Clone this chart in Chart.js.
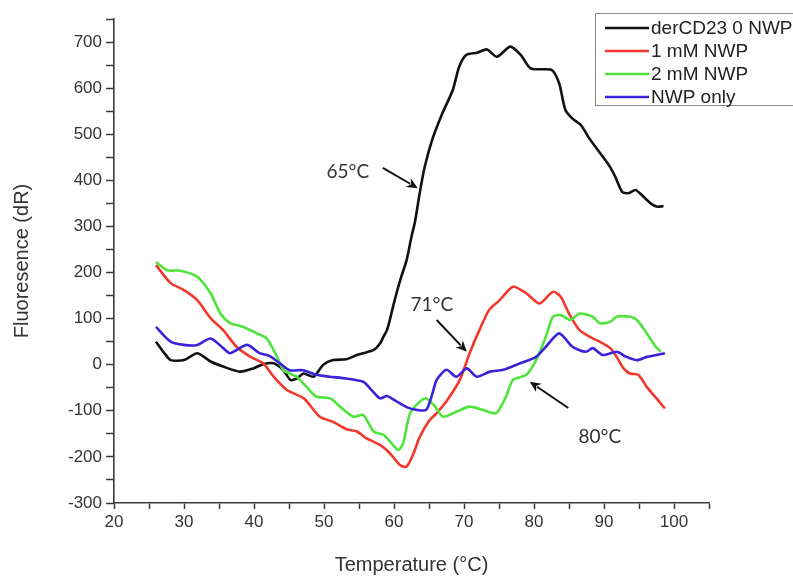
<!DOCTYPE html>
<html><head><meta charset="utf-8">
<script src="https://cdn.jsdelivr.net/npm/chart.js@4.4.1/dist/chart.umd.min.js"></script>
<style>html,body{margin:0;padding:0;background:#fff}#wrap{width:793px;height:577px}</style>
</head><body><div id="wrap"><canvas id="c" width="793" height="577"></canvas></div>
<script>
// ---- data ----
const seriesLabels = ['derCD23 0 NWP', '1 mM NWP', '2 mM NWP', 'NWP only'];

const blackTemp = [26.0,27.2,28.1,30.0,31.9,33.8,35.6,38.0,39.9,41.3,42.8,44.2,45.2,46.1,47.1,48.5,49.9,51.3,53.2,54.7,55.6,57.1,58.0,58.5,59.0,59.4,60.1,60.9,61.8,62.5,63.0,63.7,64.4,65.5,66.9,68.4,69.3,70.3,71.9,73.3,74.7,76.6,78.1,79.5,81.2,82.6,83.6,84.5,85.5,86.7,87.9,89.3,90.7,91.6,92.6,93.5,94.5,95.4,96.6,97.5,98.5];
const blackVal  = [50,25,10,10,25,7,-4,-15,-8,1,3,-12,-33,-30,-19,-26,0,10,12,21,25,32,46,61,75,97,140,184,227,278,310,375,430,490,545,596,646,672,677,684,668,690,672,643,641,639,610,552,534,520,491,462,433,408,375,372,379,368,351,343,344];

const redTemp = [26.0,28.1,30.0,31.9,33.8,35.6,37.5,39.5,41.3,42.8,44.7,47.1,49.4,51.3,53.2,54.7,56.1,58.0,59.4,60.9,61.8,62.8,63.7,65.1,66.1,67.6,69.4,70.8,72.2,73.6,75.1,77.0,78.9,80.8,82.7,83.8,85.0,86.5,88.4,89.4,90.9,91.8,92.8,93.7,94.9,96.1,97.5,98.7];
const redVal  = [216,177,162,140,101,75,39,17,3,-26,-55,-73,-113,-124,-140,-145,-160,-174,-192,-218,-221,-192,-156,-120,-105,-77,-33,25,75,119,140,169,155,133,158,148,111,75,57,50,36,17,-8,-19,-22,-48,-73,-95];

const greenTemp = [26.0,27.6,29.5,31.9,33.8,35.2,36.6,38.5,40.4,41.8,43.3,44.2,46.1,47.5,48.9,50.9,52.3,54.2,55.6,57.1,58.5,59.7,60.6,61.3,62.3,63.7,64.6,65.9,67.0,68.9,70.8,72.7,74.6,76.0,77.0,78.9,80.3,81.7,82.7,83.8,85.2,86.5,88.4,89.4,90.9,91.8,93.7,94.7,96.1,97.4,98.1];
const greenVal  = [223,205,204,191,155,111,90,82,68,57,17,-12,-26,-48,-69,-73,-91,-113,-109,-145,-152,-171,-185,-171,-105,-80,-73,-91,-113,-102,-91,-98,-105,-69,-33,-22,10,61,104,108,97,111,104,90,93,104,104,97,68,39,28];

const blueTemp = [26.0,28.1,30.0,31.9,33.8,35.6,36.6,39.0,40.8,42.2,43.7,45.1,47.0,48.9,50.8,53.2,55.6,56.8,58.0,59.0,60.4,61.8,63.2,64.6,65.5,66.1,67.5,68.9,70.4,71.8,73.7,75.6,78.0,80.3,81.7,83.6,85.5,87.4,88.4,89.8,91.8,93.2,94.7,96.1,97.5,98.7];
const blueVal  = [82,50,43,43,57,36,25,43,25,19,3,-12,-12,-22,-26,-30,-37,-55,-73,-68,-80,-92,-98,-98,-62,-33,-11,-26,-8,-26,-15,-11,3,17,39,68,39,28,36,21,28,17,10,17,21,25];

const xTickValues = [20,30,40,50,60,70,80,90,100];
const yTickValues = [-300,-200,-100,0,100,200,300,400,500,600,700];

const annotationTexts = ['65°C', '71°C', '80°C'];
const annotationTextAt = [[53.4, 418], [65.4, 130], [89.4, -157]];
const annotationArrowFrom = [[58.4, 427], [66.1, 97], [84.9, -94]];
const annotationArrowTo = [[63.4, 383], [70.4, 28], [79.4, -37]];

// ---- build ----
const colors = ['#111111', '#f2382c', '#4fe43c', '#3a22d8'];
const temps = [blackTemp, redTemp, greenTemp, blueTemp];
const vals = [blackVal, redVal, greenVal, blueVal];

const datasets = seriesLabels.map((lab, i) => ({
  label: lab,
  data: temps[i].map((t, j) => ({x: t, y: vals[i][j]})),
  borderColor: colors[i],
  backgroundColor: colors[i],
  borderWidth: 2.6,
  pointRadius: 0,
  tension: 0.25,
  fill: false
}));
datasets.reverse();

const axisColor = '#3a3a3a';
const fontFam = '"Liberation Sans", Arial, sans-serif';

const legendPlugin = {
  id: 'boxLegend',
  afterDraw(chart) {
    const ctx = chart.ctx;
    const ca = chart.chartArea;
    const left = ca.right - 114, top = ca.top - 6, h = 92;
    ctx.save();
    ctx.fillStyle = '#fff';
    ctx.fillRect(left, top, 300, h);
    ctx.strokeStyle = '#8a8a8a';
    ctx.lineWidth = 1;
    ctx.strokeRect(left + 0.5, top + 0.5, 300, h);
    ctx.font = '19px ' + fontFam;
    ctx.textBaseline = 'middle';
    seriesLabels.forEach((lab, i) => {
      const y = top + 15 + i * 23;
      ctx.strokeStyle = colors[i];
      ctx.lineWidth = 2.6;
      ctx.beginPath();
      ctx.moveTo(left + 10, y);
      ctx.lineTo(left + 54, y);
      ctx.stroke();
      ctx.fillStyle = '#222';
      ctx.fillText(lab, left + 56, y + 1);
    });
    ctx.restore();
  }
};

const annotationPlugin = {
  id: 'arrows',
  afterDatasetsDraw(chart) {
    const ctx = chart.ctx;
    const xs = chart.scales.x, ys = chart.scales.y;
    ctx.save();
    annotationTexts.forEach((txt, i) => {
      const tx = xs.getPixelForValue(annotationTextAt[i][0]);
      const ty = ys.getPixelForValue(annotationTextAt[i][1]);
      ctx.font = '19px Lato, "Open Sans", sans-serif';
      ctx.fillStyle = '#333';
      ctx.textAlign = 'center';
      ctx.textBaseline = 'middle';
      ctx.fillText(txt, tx, ty);
      const x1 = xs.getPixelForValue(annotationArrowFrom[i][0]);
      const y1 = ys.getPixelForValue(annotationArrowFrom[i][1]);
      const x2 = xs.getPixelForValue(annotationArrowTo[i][0]);
      const y2 = ys.getPixelForValue(annotationArrowTo[i][1]);
      const ang = Math.atan2(y2 - y1, x2 - x1);
      const L = 11, W = 5;
      ctx.strokeStyle = '#111';
      ctx.fillStyle = '#111';
      ctx.lineWidth = 2;
      ctx.beginPath();
      ctx.moveTo(x1, y1);
      ctx.lineTo(x2 - Math.cos(ang) * L * 0.8, y2 - Math.sin(ang) * L * 0.8);
      ctx.stroke();
      ctx.beginPath();
      ctx.moveTo(x2, y2);
      ctx.lineTo(x2 - Math.cos(ang) * L + Math.sin(ang) * W, y2 - Math.sin(ang) * L - Math.cos(ang) * W);
      ctx.lineTo(x2 - Math.cos(ang) * L * 0.7, y2 - Math.sin(ang) * L * 0.7);
      ctx.lineTo(x2 - Math.cos(ang) * L - Math.sin(ang) * W, y2 - Math.sin(ang) * L + Math.cos(ang) * W);
      ctx.closePath();
      ctx.fill();
    });
    ctx.restore();
  }
};

new Chart(document.getElementById('c'), {
  type: 'line',
  data: {datasets},
  plugins: [annotationPlugin, legendPlugin],
  options: {
    responsive: false,
    animation: false,
    layout: {padding: {top: 19, right: 84, left: 0, bottom: 0}},
    plugins: {legend: {display: false}, tooltip: {enabled: false}},
    scales: {
      x: {
        type: 'linear', min: 20, max: 105,
        afterFit: s => { s.height = 74; },
        afterBuildTicks: s => {
          const t = [];
          for (let v = 20; v <= 105; v += 5) t.push({value: v});
          s.ticks = t;
        },
        ticks: {
          autoSkip: false, maxRotation: 0, padding: 3,
          color: '#333',
          font: {family: fontFam, size: 17},
          callback: v => xTickValues.includes(v) ? String(v) : ''
        },
        grid: {display: true, drawOnChartArea: false, drawTicks: true, tickLength: 6, tickColor: axisColor, tickWidth: 1.5},
        border: {display: true, color: axisColor, width: 1.6},
        title: {display: true, text: 'Temperature (°C)', color: '#333',
          font: {family: fontFam, size: 20}, padding: {top: 0, bottom: 0}}
      },
      y: {
        type: 'linear', min: -300, max: 750,
        afterFit: s => { s.width = 114; },
        afterBuildTicks: s => {
          const t = [];
          for (let v = -300; v <= 750; v += 50) t.push({value: v});
          s.ticks = t;
        },
        ticks: {
          autoSkip: false, padding: 4,
          color: '#333',
          font: {family: fontFam, size: 17},
          callback: v => yTickValues.includes(v) ? String(v) : ''
        },
        grid: {display: true, drawOnChartArea: false, drawTicks: true, tickLength: 8, tickColor: axisColor, tickWidth: 1.5},
        border: {display: true, color: axisColor, width: 1.6},
        title: {display: true, text: 'Fluoresence (dR)', color: '#333',
          font: {family: fontFam, size: 20}, padding: {top: 10, bottom: 0}}
      }
    }
  }
});
</script>
</body></html>
